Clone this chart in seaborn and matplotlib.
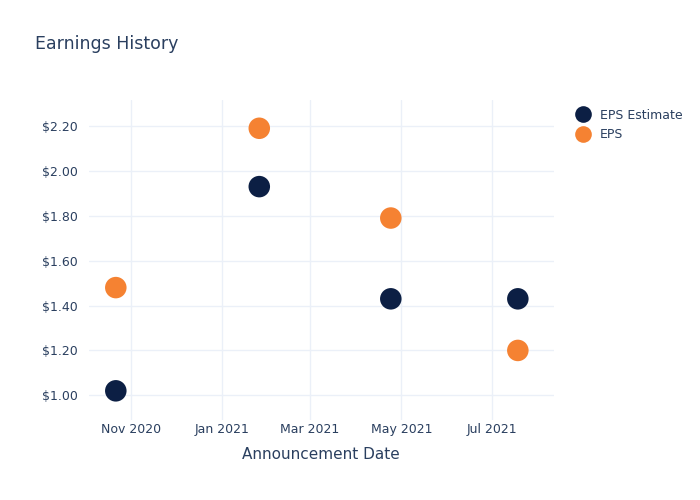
import matplotlib
matplotlib.use("Agg")
import matplotlib.pyplot as plt
import seaborn as sns
import pandas as pd
from matplotlib.lines import Line2D

dates = ["2020-10-22", "2021-01-26", "2021-04-24", "2021-07-18"]
eps_estimate = [1.02, 1.93, 1.43, 1.43]
eps_actual = [1.48, 2.19, 1.79, 1.20]
y_ticks = [1.0, 1.2, 1.4, 1.6, 1.8, 2.0, 2.2]
x_ticks = ["2020-11-01", "2021-01-01", "2021-03-01", "2021-05-01", "2021-07-01"]
x_tick_labels = ["Nov 2020", "Jan 2021", "Mar 2021", "May 2021", "Jul 2021"]

df = pd.DataFrame({
    "date": pd.to_datetime(dates * 2),
    "value": eps_estimate + eps_actual,
    "series": ["EPS Estimate"] * len(dates) + ["EPS"] * len(dates),
})

sns.set_style("white")
plt.rcParams["font.family"] = ["DejaVu Sans"]
text_color = "#2a3f5f"
grid_color = "#ebf0f8"
navy = "#0c1f44"
orange = "#f58232"

fig = plt.figure(figsize=(7, 5), dpi=100)
ax = fig.add_axes([0.127, 0.16, 0.664, 0.64])

sns.scatterplot(data=df, x="date", y="value", hue="series",
                palette={"EPS Estimate": navy, "EPS": orange},
                s=240, edgecolor="none", ax=ax, zorder=3, legend=False)

ax.set_xlim(pd.Timestamp("2020-10-04"), pd.Timestamp("2021-08-11"))
ax.set_ylim(0.89, 2.316)
ax.set_yticks(y_ticks)
ax.set_yticklabels([f"${v:.2f}" for v in y_ticks])
ax.set_xticks(pd.to_datetime(x_ticks))
ax.set_xticklabels(x_tick_labels)
ax.grid(True, color=grid_color, linewidth=1)
ax.set_axisbelow(True)
for sp in ax.spines.values():
    sp.set_visible(False)
ax.tick_params(axis="y", length=0, labelsize=9, colors=text_color, pad=8)
ax.tick_params(axis="x", length=0, labelsize=9, colors=text_color, pad=2)
ax.set_xlabel("Announcement Date", fontsize=11, color=text_color, labelpad=8)
ax.set_ylabel("")

fig.text(0.05, 0.912, "Earnings History", fontsize=12.5, color=text_color, va="center")

handles = [Line2D([0], [0], marker="o", linestyle="", markersize=12,
                  markerfacecolor=c, markeredgecolor="none") for c in [navy, orange]]
leg = fig.legend(handles, ["EPS Estimate", "EPS"], loc="upper left",
                 bbox_to_anchor=(0.805, 0.805), frameon=False, fontsize=9,
                 handletextpad=0.7, labelspacing=0.5, handlelength=1.3)
for t in leg.get_texts():
    t.set_color(text_color)

fig.savefig("out.png", dpi=100)
